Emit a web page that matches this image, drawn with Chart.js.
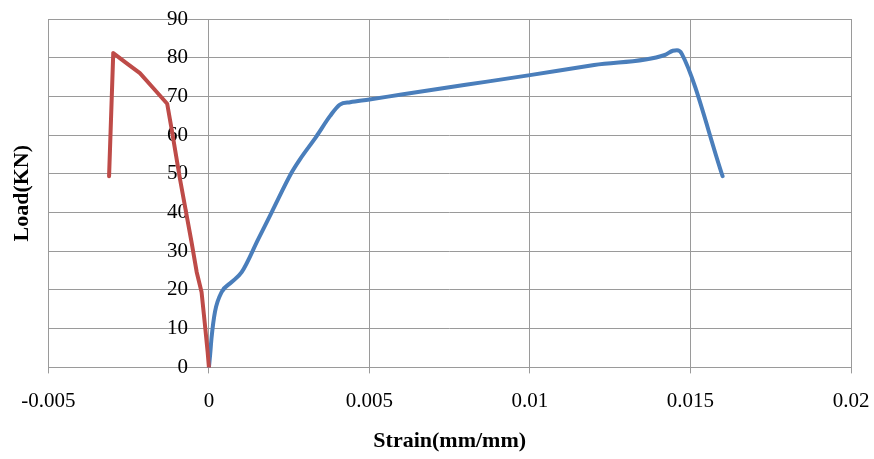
<!DOCTYPE html>
<html>
<head>
<meta charset="utf-8">
<script src="https://cdn.jsdelivr.net/npm/chart.js@4/dist/chart.umd.min.js"></script>
<style>
  html, body { margin: 0; padding: 0; background: #ffffff; }
  #wrap { width: 874px; height: 459px; position: relative; }
</style>
</head>
<body>
<div id="wrap"><canvas id="chart"></canvas></div>
<script>
// Tension side (positive strain)
const tensionStrain = [0, 0.00004, 0.00008, 0.00019, 0.0004, 0.0007, 0.00102, 0.00154, 0.00195, 0.00258, 0.00283, 0.00335, 0.00377, 0.00408, 0.0044, 0.005, 0.006, 0.008, 0.010, 0.012, 0.0142, 0.01445, 0.01458, 0.01473, 0.016];
const tensionLoad   = [0, 3.5, 7.5, 14.4, 19.5, 22, 24.6, 33.2, 40, 50.4, 53.7, 59.7, 64.9, 67.9, 68.5, 69.2, 70.5, 73, 75.5, 78.1, 80.7, 81.8, 81.9, 81, 49.4];

// Compression side (negative strain)
const compressionStrain = [0, -0.00004, -0.00013, -0.00023, -0.00038, -0.00054, -0.0009, -0.00116, -0.0013, -0.00175, -0.00215, -0.0026, -0.00298, -0.00311];
const compressionLoad   = [0, 4, 11.5, 19.5, 24.6, 32.3, 48.6, 61.5, 68.1, 72.3, 76, 78.8, 81.2, 49.4];

// Axis ticks
const xTicks = [-0.005, 0, 0.005, 0.01, 0.015, 0.02];
const xTickLabels = ['-0.005', '0', '0.005', '0.01', '0.015', '0.02'];
const yTicks = [0, 10, 20, 30, 40, 50, 60, 70, 80, 90];
const yTickLabels = ['0', '10', '20', '30', '40', '50', '60', '70', '80', '90'];

const xTitle = 'Strain(mm/mm)';
const yTitle = 'Load(KN)';

const toPoints = (xs, ys) => xs.map((x, i) => ({ x: x, y: ys[i] }));

const gridColor = '#9a9a9a';
const tickFont = { family: 'Liberation Serif', size: 21 };
const titleFont = { family: 'Liberation Serif', size: 22, weight: 'bold' };

// Keep the plot box fixed by the layout padding alone (edge labels may overhang it)
const noEdgePadding = (s) => { s.paddingLeft = 0; s.paddingRight = 0; s.paddingTop = 0; s.paddingBottom = 0; };

new Chart(document.getElementById('chart'), {
  type: 'scatter',
  data: {
    datasets: [
      {
        label: 'Compression',
        data: toPoints(compressionStrain, compressionLoad),
        showLine: true,
        borderColor: '#BE4B48',
        backgroundColor: '#BE4B48',
        borderWidth: 4,
        borderCapStyle: 'round',
        borderJoinStyle: 'round',
        pointRadius: 0,
        tension: 0
      },
      {
        label: 'Tension',
        data: toPoints(tensionStrain, tensionLoad),
        showLine: true,
        borderColor: '#4A7EBB',
        backgroundColor: '#4A7EBB',
        borderWidth: 4,
        borderCapStyle: 'round',
        borderJoinStyle: 'round',
        pointRadius: 0,
        cubicInterpolationMode: 'monotone'
      }
    ]
  },
  options: {
    responsive: true,
    maintainAspectRatio: false,
    animation: false,
    layout: { padding: { top: 19, right: 23, bottom: 0, left: 0 } },
    plugins: { legend: { display: false }, tooltip: { enabled: false } },
    scales: {
      x: {
        type: 'linear',
        position: 'bottom',
        min: -0.005,
        max: 0.02,
        afterBuildTicks: (s) => { s.ticks = xTicks.map(v => ({ value: v })); },
        afterFit: noEdgePadding,
        ticks: {
          color: '#000',
          font: tickFont,
          padding: 15,
          maxRotation: 0,
          callback: (v) => xTickLabels[xTicks.findIndex(t => Math.abs(t - v) < 1e-9)]
        },
        grid: { color: gridColor, lineWidth: 1, tickLength: 6, drawTicks: true },
        border: { color: gridColor, width: 1 },
        title: { display: true, text: xTitle, color: '#000', font: titleFont, padding: { top: 0, bottom: 4 } }
      },
      y: {
        type: 'linear',
        // value labels sit just left of the zero-strain line
        position: { x: -0.00065 },
        min: 0,
        max: 90,
        afterBuildTicks: (s) => { s.ticks = yTicks.map(v => ({ value: v })); },
        afterFit: noEdgePadding,
        ticks: {
          color: '#000',
          font: tickFont,
          padding: 0,
          callback: (v) => yTickLabels[yTicks.indexOf(v)]
        },
        grid: { color: gridColor, lineWidth: 1, drawTicks: false },
        border: { display: false }
      },
      yTitleAxis: {
        type: 'linear',
        axis: 'y',
        position: 'left',
        min: 0,
        max: 1,
        afterFit: noEdgePadding,
        ticks: { display: false },
        grid: { display: false, drawTicks: false },
        border: { display: false },
        title: { display: true, text: yTitle, color: '#000', font: titleFont, padding: { top: 9, bottom: 13 } }
      }
    }
  }
});
</script>
</body>
</html>
